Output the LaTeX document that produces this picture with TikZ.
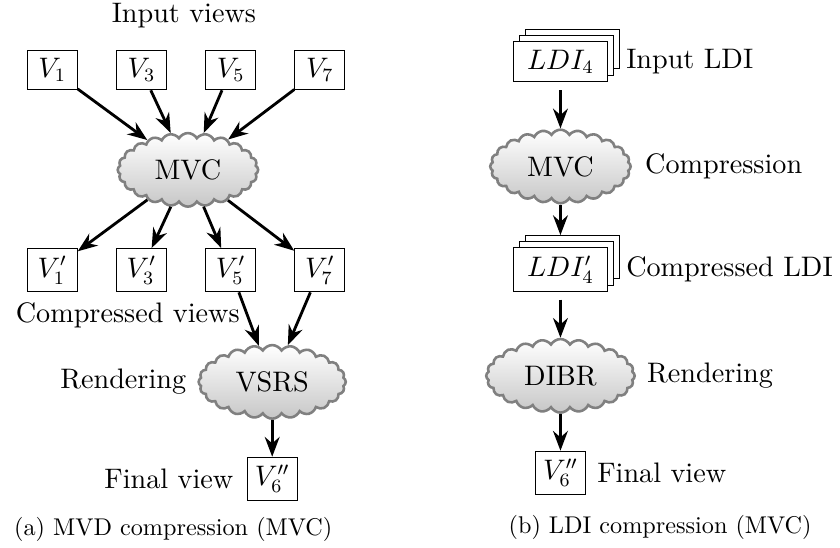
\documentclass[tikz,border=0pt]{standalone}
\usepackage{amsmath,amssymb}
\usepackage{fontspec}
\setmainfont{lmroman10-regular.otf}
\DeclareFontShape{OML}{cmm}{m}{it}{<->cmmi10}{}
\usepackage{tikz}
\usetikzlibrary{arrows.meta}
\usetikzlibrary{positioning, shapes.symbols, shadows}

\tikzset{
  view/.style={draw, fill=white, minimum width=0.75cm, font=\large},
  ldi/.style={view, minimum width=1.4cm,
    copy shadow={shadow xshift=5.2pt, shadow yshift=5.2pt, fill=white, draw=black},
    copy shadow={shadow xshift=2.6pt, shadow yshift=2.6pt, fill=white, draw=black}},
  proc/.style={cloud, cloud puffs=24, cloud puff arc=120, aspect=2,
    draw=gray, line width=1.1pt, top color=white, bottom color=black!22,
    minimum width=2.1cm, minimum height=1.1cm, inner sep=0pt, font=\large},
  lbl/.style={inner sep=0pt, font=\large},
  caption/.style={font=\fontsize{10.3}{12}\selectfont},
  flow/.style={-Stealth, very thick},
}

\begin{document}
\begin{tikzpicture}
        \useasboundingbox (0,0) rectangle (12.56,-8.18);

        % (a) MVD compression
        \node[lbl] (inviews) at (2.75,-0.24) {Input views};
        \node[view] (v1) at (0.78,-1.05) {$V_1$};
        \node[view, right=0.57cm of v1] (v3) {$V_3$};
        \node[view, right=0.57cm of v3] (v5) {$V_5$};
        \node[view, right=0.57cm of v5] (v7) {$V_7$};

        \node[proc] (mvca) at (2.81,-2.54) {MVC};

        \node[view] (v1c) at (0.78,-4.04) {$V_1'$};
        \node[view, right=0.57cm of v1c] (v3c) {$V_3'$};
        \node[view, right=0.57cm of v3c] (v5c) {$V_5'$};
        \node[view, right=0.57cm of v5c] (v7c) {$V_7'$};
        \node[lbl] (cviews) at (1.91,-4.72) {Compressed views};

        \node[proc, minimum width=2.2cm] (vsrs) at (4.07,-5.71) {VSRS};
        \node[lbl, left=0.16cm of vsrs] (renda) {Rendering};
        \node[view, below=0.55cm of vsrs] (v6a) {$V_6''$};
        \node[lbl, left=0.19cm of v6a] (finala) {Final view};

        \node[caption] (capa) at (2.59,-7.91) {(a) MVD compression (MVC)};

        \draw[flow] (v1) -- (mvca);
        \draw[flow] (v3) -- (mvca);
        \draw[flow] (v5) -- (mvca);
        \draw[flow] (v7) -- (mvca);
        \draw[flow] (mvca) -- (v1c);
        \draw[flow] (mvca) -- (v3c);
        \draw[flow] (mvca) -- (v5c);
        \draw[flow] (mvca) -- (v7c);
        \draw[flow] (v5c) -- (vsrs);
        \draw[flow] (v7c) -- (vsrs);
        \draw[flow] (vsrs) -- (v6a);

        % (b) LDI compression
        \node[ldi] (ldi) at (8.38,-0.92) {$LDI_4$};
        \node[lbl, right=0.27cm of ldi] (inldi) {Input LDI};
        \node[proc, below=0.70cm of ldi] (mvcb) {MVC};
        \node[lbl, right=0.19cm of mvcb] (comp) {Compression};
        \node[ldi, below=0.64cm of mvcb] (ldic) {$LDI_4'$};
        \node[lbl, right=0.27cm of ldic] (cldi) {Compressed LDI};
        \node[proc, minimum width=2.22cm, below=0.69cm of ldic] (dibr) {DIBR};
        \node[lbl, right=0.16cm of dibr] (rendb) {Rendering};
        \node[view, below=0.55cm of dibr] (v6b) {$V_6''$};
        \node[lbl, right=0.16cm of v6b] (finalb) {Final view};

        \node[caption] (capb) at (9.87,-7.89) {(b) LDI compression (MVC)};

        \draw[flow, shorten <=0.13cm] (ldi) -- (mvcb);
        \draw[flow] (mvcb) -- ([yshift=5.2pt]ldic.north);
        \draw[flow, shorten <=0.12cm] (ldic) -- (dibr);
        \draw[flow] (dibr) -- (v6b);
\end{tikzpicture}
\end{document}
